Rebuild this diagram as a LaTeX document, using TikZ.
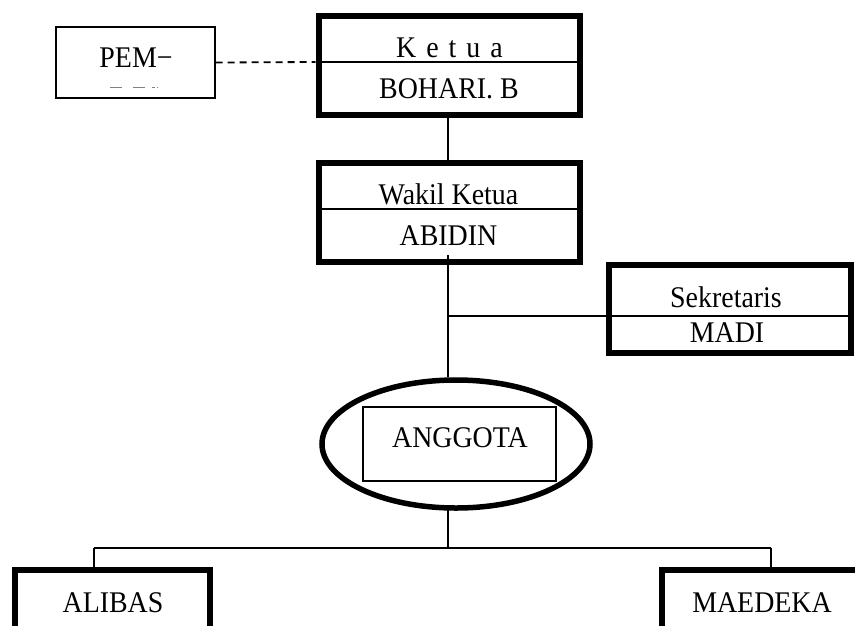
\documentclass[tikz,border=0pt]{standalone}
\usepackage{fontspec}
\setmainfont{Liberation Serif}[FakeStretch=0.93]
\usetikzlibrary{shapes.geometric}
\begin{document}
\begin{tikzpicture}[x=1pt,y=-1pt,
  thickbox/.style={draw,line width=6pt,minimum width=#1,inner sep=0pt},
  thinbox/.style={draw,line width=1.4pt,inner sep=0pt},
  conn/.style={line width=1.4pt},
  lbl/.style={anchor=base,inner sep=0pt,font=\fontsize{30}{34}\selectfont}]
\useasboundingbox (0,0) rectangle (855,625);
\clip (0,0) rectangle (855,625);
% boxes
\node[thickbox=261.5pt,minimum height=99.5pt] (ketua) at (449.25,65.25) {};
\node[thickbox=261pt,minimum height=99pt] (wakil) at (449.5,212.5) {};
\node[thickbox=242.5pt,minimum height=88pt] (sek) at (729.75,309) {};
\node[thinbox,minimum width=159pt,minimum height=71pt] (pem) at (135.5,62.5) {};
\node[draw,ellipse,line width=5.5pt,minimum width=268pt,minimum height=128pt,inner sep=0pt] (anggota) at (456,444) {};
\node[thinbox,minimum width=193pt,minimum height=74pt] (inner) at (459.5,444) {};
\node[thickbox=195pt,minimum height=110pt] (alibas) at (112.5,625) {};
\node[thickbox=240pt,minimum height=110pt] (maedeka) at (782,625) {};
% dividers
\draw[conn] (ketua.west |- 0,62) coordinate (kd) -- (ketua.east |- 0,62);
\draw[conn] (wakil.west |- 0,209) -- (wakil.east |- 0,209);
\draw[conn] (sek.west |- 0,316) -- (sek.east |- 0,316);
% texts
\node[lbl] (t1) at (449.5,57) {{\spaceskip=10pt K e t u a}};
\node[lbl] (t2) at (449,98) {BOHARI. B};
\node[lbl] (t3) at (448.5,204) {Wakil Ketua};
\node[lbl] (t4) at (448.5,245) {ABIDIN};
\node[lbl] (t5) at (726,307) {Sekretaris};
\node[lbl] (t6) at (727,342) {MADI};
\node[lbl] (t7) at (460,447) {ANGGOTA};
\node[lbl] (t8) at (113,612) {ALIBAS};
\node[lbl] (t9) at (762,612) {MAEDEKA};
\node[lbl] (t10) at (136,67) {PEM−};
% faint fragment under PEM
\draw[line width=0.8pt,gray] (110,87) -- (122,87) (133,87) -- (145,87) (152,87) -- (155,87) (157,87) -- (158,87);
% connectors
\draw[conn,dashed,dash pattern=on 7pt off 5pt,line width=1.8pt] (pem.east) -- (kd);
\draw[conn] (ketua.south -| 448,0) -- (wakil.north -| 448,0);
\coordinate (w0) at (448,255);
\coordinate (j1) at (448,316);
\draw[conn] (w0) -- (w0 |- anggota.north);
\draw[conn] (j1) -- (j1 -| sek.west);
\coordinate (a0) at (448,508);
\coordinate (j2) at (448,548);
\coordinate (la) at (94,548);
\coordinate (ra) at (771,548);
\draw[conn] (a0) -- (j2);
\draw[conn] (la) -- (ra);
\draw[conn] (la) -- (la |- alibas.north);
\draw[conn] (ra) -- (ra |- maedeka.north);
\end{tikzpicture}
\end{document}
